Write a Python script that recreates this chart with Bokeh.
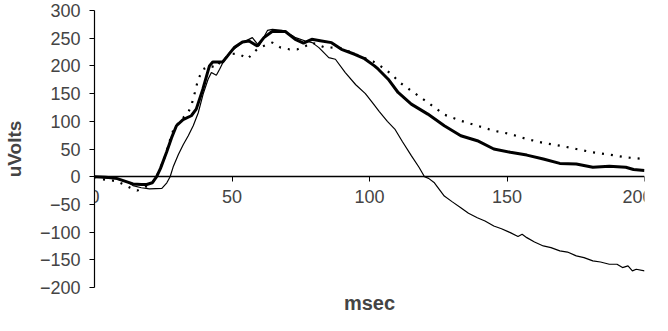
from bokeh.plotting import figure
from bokeh.models import Range1d, LinearAxis, FixedTicker, Title
from bokeh.embed import file_html
from bokeh.resources import INLINE

# Thick solid series
t_a = [0, 4, 8, 11, 14, 17, 19, 21, 22.6, 24, 26.2, 28, 29.8, 32.2, 35.2, 37, 39.4, 41.8, 43, 46.6,
       48.4, 50.8, 53.8, 56.2, 59.2, 61.6, 64.6, 69.4, 73, 76, 79, 82.6, 86.2, 89.8, 94.6, 98.2,
       101.8, 103.2, 106.8, 110.4, 115.2, 121.2, 127.2, 133.2, 139.2, 145.2, 151.2, 157.2, 163.2,
       169.2, 175.2, 181.2, 187.2, 193.2, 196, 200]
v_a = [0, -1, -3, -8, -13, -14, -14, -11, 0, 15, 44, 70, 92, 103, 110, 122, 158, 200, 207, 207,
       218, 233, 243, 245, 236, 251, 262, 262, 248, 241, 248, 245, 242, 230, 221, 213,
       200, 194, 176, 152, 131, 113, 92, 74, 65, 50, 44, 39, 32,
       24, 23, 17, 19, 17, 13, 11]

# Thin solid series
t_b = [0, 4, 8, 12, 14, 17, 20, 24.5, 26.3, 27.5, 28.7, 30.5, 32.3, 34.1, 35.9, 37.7, 39.5, 41.3,
       42.5, 44.3, 45.5, 46.7, 49.1, 53.8, 57.4, 59.8, 62.9, 64.7, 68.3, 71.9, 73.1, 76.7, 79.2,
       81.6, 85.2, 87.6, 91.2, 95, 98.5, 101, 103.5, 106.5, 109.2, 112, 115.2, 118, 120, 121.5,
       123.6, 127.2, 130, 133.2, 136, 139.2, 142, 145.2, 148, 151.2, 154, 155.5, 157.2, 160, 163.2,
       166, 169.2, 172, 175.2, 178, 181.2, 184, 187.2, 190, 192, 194, 195.6, 197, 200]
v_b = [0, -2, -4, -10, -16, -20, -22, -21, -11, 0, 19, 40, 58, 74, 92, 115, 149, 176,
       188, 183, 194, 206, 224, 242, 251, 236, 264, 266, 264, 255, 251, 245, 242,
       233, 215, 212, 188, 166, 150, 134, 118, 100, 86, 63, 38, 17, 0, -3,
       -11, -35, -45, -56, -66, -74, -80, -89, -94, -101, -108, -104, -110, -118, -125,
       -128, -134, -136, -143, -146, -152, -154, -158, -158, -164, -161, -170, -167, -170]

# Dotted series
t_c = [0, 2, 5, 8, 11, 13, 15.5, 18, 21, 23, 25.7, 26.9, 28.7, 30.5, 34.1, 35.3, 36.5, 37.7, 39.5,
       42, 44.3, 46, 47.9, 50, 52.7, 55.7, 58.7, 61, 64.7, 67.7, 70.8, 73.8, 76.8, 79.1, 83.4, 89.4,
       93.5, 97.7, 101.3, 104.8, 108, 111, 115.2, 121.2, 127.2, 133.2, 139.2, 145.2, 151.2, 157.2,
       163.2, 169.2, 175.2, 181.2, 187.2, 193.2, 200]
v_c = [0, -4, -6, -8, -15, -20, -25, -20, -12, 5, 37, 58, 85, 97, 116, 130, 152, 176, 194,
       200, 197, 210, 215, 222, 221, 213, 228, 235, 242, 233, 230, 230, 236, 242, 234, 232,
       224, 215, 208, 197, 185, 170, 155, 134, 112, 101, 92, 83, 77, 68,
       61, 56, 50, 44, 40, 35, 32]

x_ticks = [0, 50, 100, 150, 200]
y_ticks = [-200, -150, -100, -50, 0, 50, 100, 150, 200, 250, 300]

FONT = "Liberation Sans"

p = figure(width=652, height=315, output_backend="svg", toolbar_location=None,
           x_range=Range1d(0, 200), y_range=Range1d(-200, 300),
           x_axis_location=None, y_axis_location=None,
           min_border_left=89, min_border_right=8, min_border_top=10, min_border_bottom=28)
p.grid.visible = False
p.outline_line_color = None
p.background_fill_color = "white"
p.border_fill_color = "white"

yax = LinearAxis(ticker=FixedTicker(ticks=y_ticks), axis_label="uVolts")
yax.axis_label_text_font = FONT
yax.axis_label_text_font_size = "19px"
yax.axis_label_text_font_style = "bold"
yax.axis_label_standoff = 12
yax.major_label_text_font = FONT
yax.major_label_text_font_size = "18px"
yax.major_label_standoff = 9
yax.major_tick_out = 5
yax.major_tick_in = 0
yax.minor_tick_out = 0
yax.minor_tick_in = 0
yax.axis_line_color = "black"
yax.axis_line_width = 1.2
p.add_layout(yax, "left")

xax = LinearAxis(ticker=FixedTicker(ticks=x_ticks), fixed_location=0)
xax.major_label_text_font = FONT
xax.major_label_text_font_size = "18px"
xax.major_label_standoff = 8
xax.major_tick_out = 5
xax.major_tick_in = 0
xax.minor_tick_out = 0
xax.minor_tick_in = 0
xax.axis_line_color = "black"
xax.axis_line_width = 1.5
p.add_layout(xax, "below")

p.add_layout(Title(text="msec", align="center", text_font=FONT, text_font_size="20px",
                   text_font_style="bold", offset=0, standoff=4), "below")

p.line(t_c, v_c, line_color="black", line_width=2.2, line_dash="2 7")
p.line(t_b, v_b, line_color="black", line_width=1.2)
p.line(t_a, v_a, line_color="black", line_width=3)

open("out.html", "w").write(file_html(p, INLINE))
